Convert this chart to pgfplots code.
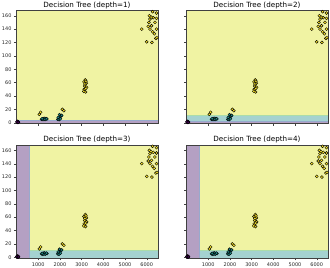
\documentclass[border=0pt]{standalone}
\usepackage{pgfplots}
\pgfplotsset{compat=1.18}
\usepackage{fontspec}
\setmainfont{DejaVu Sans}
\definecolor{bgY}{RGB}{240,243,163}
\definecolor{bgP}{RGB}{180,160,195}
\definecolor{bgT}{RGB}{164,210,208}
\definecolor{lnYT}{RGB}{170,220,170}
\definecolor{lnPT}{RGB}{150,170,205}
\definecolor{c0}{HTML}{440154}
\definecolor{c1}{HTML}{21918C}
\definecolor{c2}{HTML}{FDE725}
\pgfplotsset{
  dt/.style={
    scale only axis, width=142bp, height=113bp,
    xmin=-25, xmax=6520, ymin=-1.5, ymax=167.5,
    xtick={1000,2000,3000,4000,5000,6000},
    ytick={0,20,40,60,80,100,120,140,160},
    axis line style={black!75, line width=0.4pt},
    tick style={black!75, line width=0.35pt},
    major tick length=2bp,
    tick align=outside, xtick pos=bottom, ytick pos=left,
    tick label style={font=\fontsize{5}{6}\selectfont, text=black!85},
    /pgf/number format/assume math mode=true,
    /pgf/number format/1000 sep={},
    xticklabel style={yshift=1bp},
    yticklabel style={xshift=1bp},
    title style={font=\fontsize{7.2}{8}\selectfont, yshift=-7.3bp},
    axis on top,
    clip=true,
  },
  pts0/.style={only marks, mark=*, mark size=1.5bp, mark options={fill=c0, draw=black, line width=0.4pt}},
  pts1/.style={only marks, mark=*, mark size=1.5bp, mark options={fill=c1, draw=black, line width=0.4pt}},
  pts2/.style={only marks, mark=*, mark size=1.5bp, mark options={fill=c2, draw=black, line width=0.4pt}},
}
\pgfplotstableread{
x y
30 1
50 0.5
70 1.5
40 2
90 1
60 0.8
20 1.2
80 0.5
}\classzero
\pgfplotstableread{
x y
1150 5
1200 5.5
1250 6
1300 5
1350 6
1400 5.5
1220 4.5
1280 6.5
1320 4.8
1380 6.2
1180 6
1900 5
1950 7
2000 9
1980 12
2050 10
1920 8
2080 11
1960 4.5
2020 6
}\classone
\pgfplotstableread{
x y
1050 12.5
1110 15.5
2110 20
2180 18
3110 61
3170 64
3220 59
3140 55
3230 53
3120 50
3180 46
3100 47
3200 62
3150 58
3190 51
5770 140
6000 121
6240 120
6420 126
6470 127
6100 150
6150 155
6300 157
6450 156
6270 166
6450 164
6500 168
6070 144
6220 145
6150 140
6270 136
6450 140
6350 133
6120 160
6200 158
6380 150
}\classtwo
\newcommand{\points}{%
  \addplot[pts0] table {\classzero};
  \addplot[pts1] table {\classone};
  \addplot[pts2] table {\classtwo};
}
\begin{document}
\begin{tikzpicture}
\path[use as bounding box] (0bp,0bp) rectangle (330bp,268bp);
% depth 1
\begin{axis}[dt, at={(16bp,144.3bp)}, anchor=south west, xticklabels={}, title={Decision Tree (depth=1)}]
\addplot[fill=bgY, draw=none] coordinates {(-25,-1.5) (6520,-1.5) (6520,167.5) (-25,167.5)};
\addplot[fill=bgP, draw=none] coordinates {(-25,-1.5) (6520,-1.5) (6520,3) (-25,3)};
\addplot[lnPT, line width=0.5pt] coordinates {(-25,3) (6520,3)};
\points
\end{axis}
% depth 2
\begin{axis}[dt, at={(186bp,144.3bp)}, anchor=south west, xticklabels={}, yticklabels={}, title={Decision Tree (depth=2)}]
\addplot[fill=bgY, draw=none] coordinates {(-25,-1.5) (6520,-1.5) (6520,167.5) (-25,167.5)};
\addplot[fill=bgT, draw=none] coordinates {(-25,-1.5) (6520,-1.5) (6520,11) (-25,11)};
\addplot[fill=bgP, draw=none] coordinates {(-25,-1.5) (6520,-1.5) (6520,2.5) (-25,2.5)};
\addplot[lnYT, line width=0.5pt] coordinates {(-25,11) (6520,11)};
\addplot[lnPT, line width=0.5pt] coordinates {(-25,2.5) (6520,2.5)};
\points
\end{axis}
% depth 3
\begin{axis}[dt, at={(16bp,9.7bp)}, anchor=south west, title={Decision Tree (depth=3)}]
\addplot[fill=bgY, draw=none] coordinates {(-25,-1.5) (6520,-1.5) (6520,167.5) (-25,167.5)};
\addplot[fill=bgT, draw=none] coordinates {(585,-1.5) (6520,-1.5) (6520,11) (585,11)};
\addplot[fill=bgP, draw=none] coordinates {(-25,-1.5) (585,-1.5) (585,167.5) (-25,167.5)};
\addplot[lnYT, line width=0.5pt] coordinates {(585,11) (6520,11)};
\addplot[lnPT, line width=0.5pt] coordinates {(585,-1.5) (585,167.5)};
\points
\end{axis}
% depth 4
\begin{axis}[dt, at={(186bp,9.7bp)}, anchor=south west, yticklabels={}, title={Decision Tree (depth=4)}]
\addplot[fill=bgY, draw=none] coordinates {(-25,-1.5) (6520,-1.5) (6520,167.5) (-25,167.5)};
\addplot[fill=bgT, draw=none] coordinates {(585,-1.5) (6520,-1.5) (6520,11) (585,11)};
\addplot[fill=bgP, draw=none] coordinates {(-25,-1.5) (585,-1.5) (585,167.5) (-25,167.5)};
\addplot[lnYT, line width=0.5pt] coordinates {(585,11) (6520,11)};
\addplot[lnPT, line width=0.5pt] coordinates {(585,-1.5) (585,167.5)};
\points
\end{axis}
\end{tikzpicture}
\end{document}
